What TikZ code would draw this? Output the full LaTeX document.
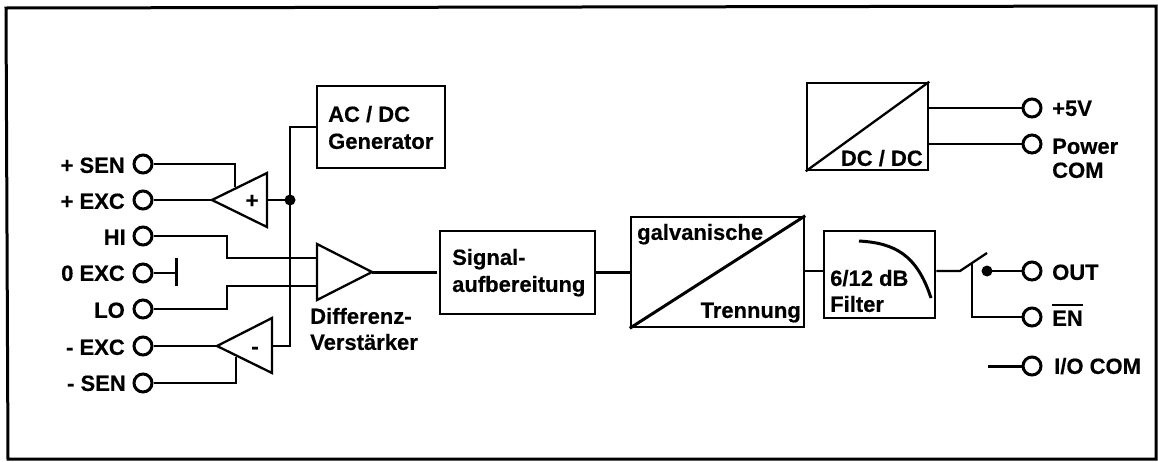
\documentclass[tikz,border=0pt]{standalone}
\usepackage{fontspec}
\setmainfont[BoldFeatures={FakeBold=0.35}]{Liberation Sans}
\begin{document}
\begin{tikzpicture}[x=1pt,y=-1pt,
  wire/.style={line width=2.3pt,line cap=butt,line join=miter},
  thick wire/.style={line width=3pt},
  frameline/.style={line width=3pt,line join=miter},
  blockbox/.style={draw,line width=2.5pt,rectangle,inner sep=0pt,fill=white},
  term/.style={draw,circle,line width=3pt,minimum size=18pt,inner sep=0pt,fill=white},
  lab/.style={font=\fontsize{22}{24}\selectfont\bfseries,inner sep=0pt,text height=15.7pt,text depth=0pt},
  labw/.style={lab,anchor=west},
  labe/.style={lab,anchor=east},
  dotn/.style={circle,fill=black,inner sep=0pt}]
\useasboundingbox (0,0) rectangle (1158,461);
\fill[white] (0,0) rectangle (1158,461);
\draw[frameline] (6,8) -- (1156,6) -- (1156,459) -- (8,459) -- cycle;

% blocks
\node[blockbox,minimum width=128pt,minimum height=82pt] (gen) at (381,127) {};
\node[blockbox,minimum width=155pt,minimum height=83pt] (sig) at (517.5,272.5) {};
\node[blockbox,minimum width=173pt,minimum height=110pt] (gal) at (717.5,272) {};
\node[blockbox,minimum width=111pt,minimum height=87pt] (fil) at (879.5,274.5) {};
\node[blockbox,minimum width=121pt,minimum height=87pt] (dcdc) at (867.5,126.5) {};

% terminals
\node[term] (tps) at (143,164) {};
\node[term] (tpe) at (143,200) {};
\node[term] (thi) at (143,236) {};
\node[term] (tze) at (143,273) {};
\node[term] (tlo) at (143,309) {};
\node[term] (tme) at (143,346) {};
\node[term] (tms) at (143,383) {};
\node[term] (tfv) at (1032,108) {};
\node[term] (tpw) at (1032,144) {};
\node[term] (tou) at (1032,271) {};
\node[term] (ten) at (1032,317) {};
\node[term] (tio) at (1032,366) {};

% amplifier corners
\coordinate (pt) at (212,200); \coordinate (pa) at (267,173); \coordinate (pb) at (267,227);
\coordinate (mt) at (217,346); \coordinate (ma) at (272,318); \coordinate (mb) at (272,373);
\coordinate (dt) at (372,272); \coordinate (da) at (317,244); \coordinate (db) at (317,300);
\coordinate (pr) at (267,200); \coordinate (mr) at (272,346);
\coordinate (pj) at (290,200); \coordinate (vt) at (290,127); \coordinate (vb) at (290,346);
\coordinate (psj) at (235,187); \coordinate (psc) at (235,164);
\coordinate (msj) at (236,357); \coordinate (msc) at (236,383);
\coordinate (hia) at (227,236); \coordinate (hib) at (227,258); \coordinate (hic) at (317,258);
\coordinate (loa) at (227,309); \coordinate (lob) at (227,286); \coordinate (loc) at (317,286);
\coordinate (zb) at (176,273); \coordinate (zba) at (176,258); \coordinate (zbb) at (176,286);
\coordinate (dout) at (437,272);
\coordinate (swa) at (960,271); \coordinate (swb) at (987,253); \coordinate (swc) at (972,262);
\coordinate (swd) at (972,317); \coordinate (iol) at (988,366);
\coordinate (ct) at (987,271);
\coordinate (ge) at (804,271); \coordinate (fw) at (824,271);

% connectors
\draw[wire] (tps.east) -- (psc) -- (psj);
\draw[wire] (tpe.east) -- (pt);
\draw[wire] (tme.east) -- (mt);
\draw[wire] (tms.east) -- (msc) -- (msj);
\draw[wire] (pr) -- (pj);
\draw[wire] (mr) -- (vb) -- (vt) -- (gen.west |- vt);
\draw[wire] (thi.east) -- (hia) -- (hib) -- (hic);
\draw[wire] (tlo.east) -- (loa) -- (lob) -- (loc);
\draw[wire] (tze.east) -- (zb);
\draw[thick wire] (zba) -- (zbb);
\draw[thick wire] (dt) -- (dout);
\draw[thick wire] (sig.east) -- (gal.west |- sig.east);
\draw[wire] (ge) -- (fw);
\draw[wire] (dcdc.east |- tfv) -- (tfv.west);
\draw[wire] (dcdc.east |- tpw) -- (tpw.west);
\draw[wire] (fil.east |- swa) -- (swa) -- (swb);
\draw[wire] (swc) -- (swd) -- (ten.west);
\draw[wire] (ct) -- (tou.west);
\draw[thick wire] (iol) -- (tio.west);
\node[dotn,minimum size=11pt] (jd) at (pj) {};
\node[dotn,minimum size=11pt] (od) at (ct) {};

% amplifiers
\draw[wire] (pt) -- (pa) -- (pb) -- cycle;
\draw[wire] (mt) -- (ma) -- (mb) -- cycle;
\draw[wire,fill=white] (dt) -- (da) -- (db) -- cycle;
\draw[thick wire] (gal.south west) -- (gal.north east);
\draw[wire] (dcdc.south west) -- (dcdc.north east);
\draw[thick wire] (859,241) .. controls (895,243) and (917,255) .. (931,298);

% labels
\node[labe] (lps) at (125,165) {+ SEN};
\node[labe] (lpe) at (125,201) {+ EXC};
\node[labe] (lhi) at (126,237) {HI};
\node[labe] (lze) at (125,273) {0 EXC};
\node[labe] (llo) at (125,310) {LO};
\node[labe] (lme) at (125,347) {- EXC};
\node[labe] (lms) at (126,383) {- SEN};
\node[lab] (lplus) at (252,200) {+};
\node[lab] (lminus) at (255,346) {-};
\node[labw] (l1) at (328,114) {AC / DC};
\node[labw] (l2) at (328,141) {Generator};
\node[labw] (l3) at (310,316) {Differenz-};
\node[labw] (l4) at (310,342) {Verstärker};
\node[labw] (l5) at (452,257) {Signal-};
\node[labw] (l6) at (452,284) {aufbereitung};
\node[labw] (l7) at (637,232) {galvanische};
\node[labe] (l8) at (801,310) {Trennung};
\node[labw] (l9) at (830,278) {6/12 dB};
\node[labw] (l10) at (830,304) {Filter};
\node[labe] (l11) at (923,158) {DC / DC};
\node[labw] (l12) at (1052,108) {+5V};
\node[labw] (l13) at (1052,146) {Power};
\node[labw] (l14) at (1052,170) {COM};
\node[labw] (l15) at (1052,272) {OUT};
\node[labw] (l16) at (1052,318) {\setbox0\hbox{EN}\rlap{\raisebox{20pt}{\rule{\wd0}{2.2pt}}}\box0};
\node[labw] (l17) at (1054,366) {I/O COM};
\end{tikzpicture}
\end{document}
